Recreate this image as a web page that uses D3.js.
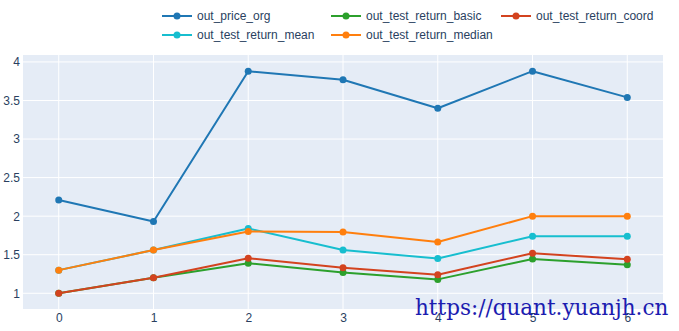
<!DOCTYPE html>
<html>
<head>
<meta charset="utf-8">
<script src="https://cdn.jsdelivr.net/npm/d3@7"></script>
<style>
  body { margin: 0; background: #fff; }
  text { font-family: "Liberation Sans", Arial, sans-serif; }
</style>
</head>
<body>
<div id="chart"></div>
<script>
// data
var xVals = [0, 1, 2, 3, 4, 5, 6];
var seriesNames = ['out_price_org', 'out_test_return_basic', 'out_test_return_coord', 'out_test_return_mean', 'out_test_return_median'];
var out_price_org = [2.21, 1.93, 3.88, 3.77, 3.40, 3.88, 3.54];
var out_test_return_basic = [1.0, 1.20, 1.39, 1.27, 1.18, 1.445, 1.37];
var out_test_return_coord = [1.0, 1.20, 1.455, 1.33, 1.24, 1.52, 1.44];
var out_test_return_mean = [1.30, 1.56, 1.84, 1.56, 1.45, 1.74, 1.74];
var out_test_return_median = [1.30, 1.56, 1.80, 1.795, 1.665, 2.0, 2.0];
var yTicks = [1, 1.5, 2, 2.5, 3, 3.5, 4];
var colors = ['#1f77b4', '#2ca02c', '#d3431f', '#17becf', '#ff7f0e'];

var allSeries = [out_price_org, out_test_return_basic, out_test_return_coord, out_test_return_mean, out_test_return_median];
var drawOrder = [0, 1, 2, 3, 4];

var W = 679, H = 331;
var margin = {top: 55, right: 16, bottom: 22, left: 23};
var width = W - margin.left - margin.right,
    height = H - margin.top - margin.bottom;

var svg = d3.select('#chart').append('svg')
  .attr('width', W)
  .attr('height', H);

var x = d3.scaleLinear().domain([-0.377, 6.377]).range([0, width]);
var y = d3.scaleLinear().domain([0.796, 4.09]).range([height, 0]);

var g = svg.append('g')
  .attr('transform', 'translate(' + margin.left + ',' + margin.top + ')');

g.append('rect')
  .attr('width', width)
  .attr('height', height)
  .attr('fill', '#e5ecf6');

// grid
g.selectAll('.ygrid').data(yTicks).enter().append('line')
  .attr('x1', 0).attr('x2', width)
  .attr('y1', function(d) { return y(d); })
  .attr('y2', function(d) { return y(d); })
  .attr('stroke', '#fff').attr('stroke-width', 1);

g.selectAll('.xgrid').data(xVals).enter().append('line')
  .attr('y1', 0).attr('y2', height)
  .attr('x1', function(d) { return x(d); })
  .attr('x2', function(d) { return x(d); })
  .attr('stroke', '#fff').attr('stroke-width', 1);

// axes (labels only, plotly style)
var yAxis = g.append('g')
  .call(d3.axisLeft(y).tickValues(yTicks).tickSize(0).tickPadding(3).tickFormat(d3.format('')));
yAxis.select('.domain').remove();
yAxis.selectAll('text').attr('fill', '#2a3f5f').style('font-size', '12px');

var xAxis = g.append('g')
  .attr('transform', 'translate(0,' + height + ')')
  .call(d3.axisBottom(x).tickValues(xVals).tickSize(0).tickPadding(4).tickFormat(d3.format('d')));
xAxis.select('.domain').remove();
xAxis.selectAll('text').attr('fill', '#2a3f5f').style('font-size', '12px');

// lines
var line = d3.line()
  .x(function(d, i) { return x(xVals[i]); })
  .y(function(d) { return y(d); });

drawOrder.forEach(function(k) {
  var s = allSeries[k];
  g.append('path')
    .datum(s)
    .attr('d', line)
    .attr('fill', 'none')
    .attr('stroke', colors[k])
    .attr('stroke-width', 2)
    .attr('stroke-linejoin', 'round');
  g.selectAll('.pt' + k).data(s).enter().append('circle')
    .attr('cx', function(d, i) { return x(xVals[i]); })
    .attr('cy', function(d) { return y(d); })
    .attr('r', 3.5)
    .attr('fill', colors[k]);
});

// legend
var legPos = [[162, 16], [331, 16], [501, 16], [162, 35], [331, 35]];
var leg = svg.append('g');
seriesNames.forEach(function(name, k) {
  var p = legPos[k];
  var it = leg.append('g').attr('transform', 'translate(' + p[0] + ',' + p[1] + ')');
  it.append('line').attr('x1', 0).attr('x2', 30).attr('y1', 0).attr('y2', 0)
    .attr('stroke', colors[k]).attr('stroke-width', 2);
  it.append('circle').attr('cx', 15).attr('cy', 0).attr('r', 3.5).attr('fill', colors[k]);
  it.append('text').attr('x', 35).attr('y', 0).attr('dy', '0.35em')
    .attr('fill', '#2a3f5f').style('font-size', '12px')
    .text(name);
});

// watermark
svg.append('text')
  .attr('x', 415).attr('y', 315)
  .style('font-family', '"DejaVu Serif", serif')
  .style('font-size', '21.5px')
  .attr('fill', '#1c1cb0')
  .text('https://quant.yuanjh.cn');
</script>
</body>
</html>
